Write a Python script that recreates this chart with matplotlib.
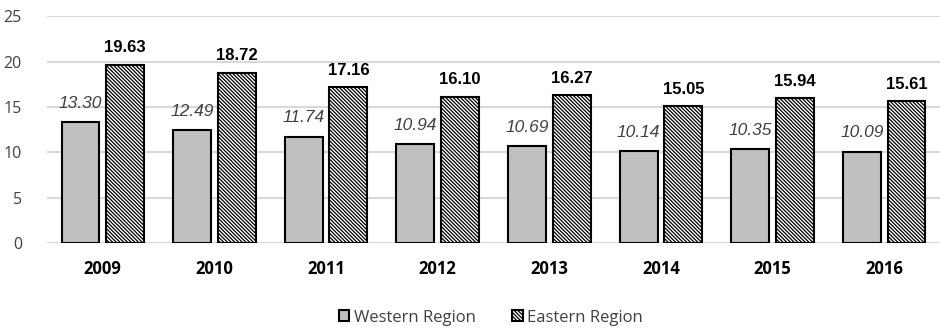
import matplotlib.pyplot as plt
import numpy as np

years = ['2009', '2010', '2011', '2012', '2013', '2014', '2015', '2016']
western = [13.30, 12.49, 11.74, 10.94, 10.69, 10.14, 10.35, 10.09]
eastern = [19.63, 18.72, 17.16, 16.10, 16.27, 15.05, 15.94, 15.61]

plt.rcParams['hatch.linewidth'] = 0.9

fig = plt.figure(figsize=(9.4, 3.29), dpi=100)
ax = fig.add_axes([0.05, 0.261, 0.95, 0.69])

x = np.arange(len(years))
w = 0.34
b1 = ax.bar(x - 0.2, western, w, color='#c0c0c0', edgecolor='black', lw=1.5,
            label='Western Region', zorder=3)
b2 = ax.bar(x + 0.2, eastern, w, color='white', edgecolor='black', lw=1.5,
            hatch='\\' * 9, label='Eastern Region', zorder=3)

for xi, v in zip(x, western):
    ax.annotate(f'{v:.2f}', (xi - 0.2, v), xytext=(0, 8), textcoords='offset points',
                ha='center', va='bottom', fontsize=12.5, style='italic',
                color='#404040', family='Liberation Sans')
for xi, v in zip(x, eastern):
    ax.annotate(f'{v:.2f}', (xi + 0.2, v), xytext=(0, 7), textcoords='offset points',
                ha='center', va='bottom', fontsize=12, fontweight='bold',
                color='black', family='Liberation Sans')

ax.set_xlim(-0.5, 7.5)
ax.set_ylim(0, 25)
ax.set_yticks(range(0, 26, 5))
ax.set_xticks(x)
ax.set_xticklabels(years, fontsize=12, fontweight='bold', family='Open Sans')
ax.tick_params(axis='y', labelsize=11.5, colors='#404040', length=0, pad=18)
ax.tick_params(axis='x', length=0, pad=12)
for lbl in ax.get_yticklabels():
    lbl.set_family('Open Sans')
ax.yaxis.grid(True, color='#d9d9d9', lw=1.5, zorder=0)
for s in ax.spines.values():
    s.set_visible(False)

fig.legend(loc='lower center', bbox_to_anchor=(0.522, -0.035), ncol=2, frameon=False,
           prop={'family': 'Open Sans', 'size': 12}, handlelength=0.65, handleheight=0.65,
           handletextpad=0.25, columnspacing=2.2, labelcolor='#404040')

fig.savefig('out.png', dpi=100)
